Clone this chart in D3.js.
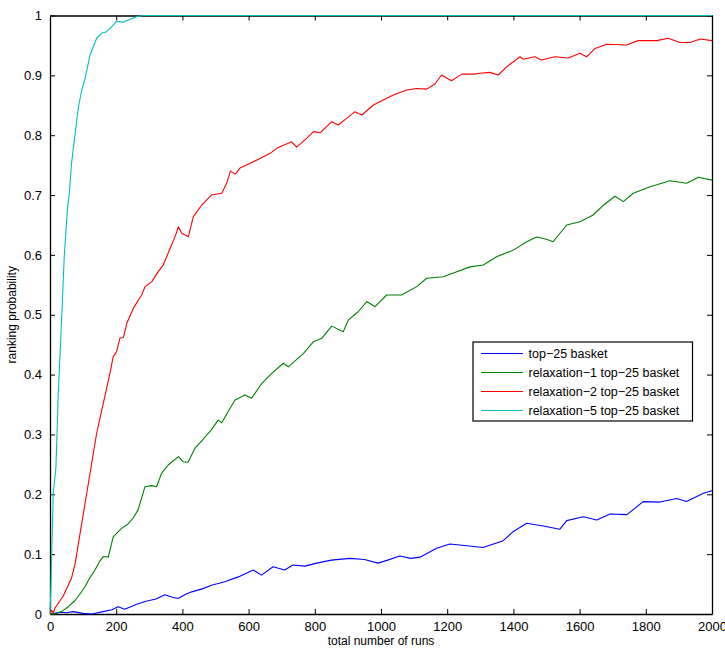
<!DOCTYPE html>
<html>
<head>
<meta charset="utf-8">
<script src="https://cdn.jsdelivr.net/npm/d3@7"></script>
<style>
  html, body { margin: 0; padding: 0; background: #fff; }
  svg { display: block; font-family: "Liberation Sans", Arial, Helvetica, sans-serif; }
</style>
</head>
<body>
<svg id="chart" width="725" height="648"></svg>
<script>
// Ranking probability versus total number of runs, one curve per basket type.
const seriesNames = [
  "top\u221225 basket",
  "relaxation\u22121 top\u221225 basket",
  "relaxation\u22122 top\u221225 basket",
  "relaxation\u22125 top\u221225 basket"
];
const seriesColors = ["#0000ff", "#008000", "#ff0000", "#00bfbf"];

const xTicks = [0, 200, 400, 600, 800, 1000, 1200, 1400, 1600, 1800, 2000];
const yTicks = [0, 0.1, 0.2, 0.3, 0.4, 0.5, 0.6, 0.7, 0.8, 0.9, 1];

const top25Runs = [0, 30, 50, 70, 100, 127, 160, 187, 206, 226, 260, 287, 320, 347, 370, 387, 410, 428, 460, 488, 528, 569, 614, 639, 674, 709, 734, 770, 806, 850, 906, 950, 991, 1020, 1057, 1090, 1118, 1168, 1208, 1260, 1308, 1340, 1369, 1399, 1440, 1490, 1540, 1561, 1611, 1652, 1692, 1743, 1792, 1843, 1893, 1923, 1974, 2000];
const top25Prob = [0, 0.003, 0.002, 0.004, 0.001, 0, 0.004, 0.007, 0.012, 0.008, 0.016, 0.021, 0.025, 0.032, 0.028, 0.026, 0.033, 0.037, 0.042, 0.048, 0.054, 0.062, 0.0735, 0.065, 0.079, 0.0735, 0.082, 0.08, 0.085, 0.09, 0.093, 0.091, 0.085, 0.09, 0.097, 0.093, 0.095, 0.11, 0.117, 0.114, 0.111, 0.117, 0.1225, 0.1375, 0.1515, 0.147, 0.1415, 0.156, 0.1626, 0.157, 0.167, 0.166, 0.1877, 0.187, 0.193, 0.188, 0.2016, 0.206];

const relax1Runs = [0, 20, 35, 55, 76, 90, 106, 120, 136, 150, 161, 176, 191, 216, 235, 251, 266, 287, 307, 322, 337, 357, 388, 402, 417, 438, 460, 478, 488, 508, 519, 540, 559, 589, 609, 640, 670, 705, 720, 766, 796, 821, 851, 886, 901, 931, 957, 982, 1017, 1062, 1108, 1138, 1188, 1229, 1269, 1309, 1349, 1400, 1440, 1470, 1500, 1520, 1561, 1601, 1641, 1672, 1707, 1732, 1762, 1813, 1873, 1923, 1959, 2000];
const relax1Prob = [0, 0.001, 0.004, 0.012, 0.023, 0.033, 0.046, 0.06, 0.0735, 0.088, 0.096, 0.095, 0.129, 0.143, 0.15, 0.16, 0.174, 0.2127, 0.2145, 0.2127, 0.235, 0.249, 0.263, 0.2545, 0.2535, 0.277, 0.29, 0.302, 0.308, 0.324, 0.3195, 0.34, 0.3576, 0.366, 0.3604, 0.3855, 0.402, 0.419, 0.413, 0.4356, 0.455, 0.4606, 0.481, 0.4717, 0.491, 0.505, 0.522, 0.5135, 0.533, 0.533, 0.547, 0.561, 0.5636, 0.572, 0.58, 0.583, 0.597, 0.608, 0.622, 0.63, 0.626, 0.622, 0.65, 0.6555, 0.6667, 0.683, 0.698, 0.689, 0.703, 0.714, 0.724, 0.7196, 0.7296, 0.725];

const relax2Runs = [0, 5, 10, 15, 25, 40, 55, 65, 76, 91, 111, 126, 141, 161, 181, 191, 201, 211, 222, 232, 252, 267, 277, 287, 307, 327, 342, 363, 378, 388, 398, 418, 433, 458, 488, 519, 534, 545, 560, 574, 600, 630, 665, 685, 730, 745, 776, 796, 816, 851, 871, 896, 921, 942, 977, 1007, 1037, 1078, 1108, 1138, 1163, 1183, 1213, 1244, 1279, 1299, 1329, 1354, 1380, 1420, 1430, 1465, 1485, 1526, 1566, 1601, 1621, 1647, 1682, 1742, 1777, 1833, 1868, 1903, 1934, 1964, 2000];
const relax2Prob = [0, 0.006, 0.002, 0.01, 0.018, 0.03, 0.048, 0.06, 0.0847, 0.135, 0.2017, 0.252, 0.302, 0.352, 0.402, 0.43, 0.438, 0.4607, 0.462, 0.4857, 0.5107, 0.5246, 0.533, 0.547, 0.555, 0.572, 0.583, 0.611, 0.6305, 0.647, 0.636, 0.6305, 0.664, 0.683, 0.7, 0.703, 0.72, 0.74, 0.735, 0.745, 0.752, 0.76, 0.7697, 0.778, 0.789, 0.78, 0.795, 0.806, 0.804, 0.8226, 0.817, 0.828, 0.839, 0.8337, 0.8505, 0.8588, 0.867, 0.8755, 0.878, 0.877, 0.8856, 0.9006, 0.891, 0.902, 0.902, 0.9034, 0.905, 0.9006, 0.9145, 0.931, 0.927, 0.931, 0.9256, 0.931, 0.929, 0.9368, 0.931, 0.945, 0.952, 0.9507, 0.958, 0.958, 0.962, 0.955, 0.955, 0.9607, 0.958];

const relax5Runs = [0, 3, 5, 10, 18, 25, 35, 43, 53, 58, 65, 76, 86, 96, 106, 121, 141, 156, 171, 186, 201, 222, 242, 262, 282, 2000];
const relax5Prob = [0, 0.05, 0.1014, 0.2017, 0.246, 0.3687, 0.491, 0.597, 0.68, 0.70, 0.753, 0.803, 0.8476, 0.8755, 0.895, 0.934, 0.962, 0.9703, 0.973, 0.981, 0.99, 0.989, 0.9936, 0.998, 1, 1];

const seriesRuns = [top25Runs, relax1Runs, relax2Runs, relax5Runs];
const seriesProb = [top25Prob, relax1Prob, relax2Prob, relax5Prob];

const margin = { left: 50, top: 15.5, right: 13, bottom: 34 };
const W = 725, H = 648;
const plotW = W - margin.left - margin.right;
const plotH = H - margin.top - margin.bottom;

const svg = d3.select("#chart");
const g = svg.append("g").attr("transform", `translate(${margin.left},${margin.top})`);

const x = d3.scaleLinear().domain([0, 2000]).range([0, plotW]);
const y = d3.scaleLinear().domain([0, 1]).range([plotH, 0]);

const fmtY = d => d3.format("~g")(d);
const tickLen = 5;

// Axes on all four sides with inward ticks; labels only on bottom and left.
g.append("g").attr("transform", `translate(0,${plotH})`)
  .call(d3.axisBottom(x).tickValues(xTicks).tickSizeInner(-tickLen).tickSizeOuter(0).tickPadding(8).tickFormat(d3.format("d")))
  .call(s => s.selectAll("text").attr("font-size", 13).attr("fill", "#000"));
g.append("g")
  .call(d3.axisTop(x).tickValues(xTicks).tickSizeInner(-tickLen).tickSizeOuter(0).tickFormat(""));
g.append("g")
  .call(d3.axisLeft(y).tickValues(yTicks).tickSizeInner(-tickLen).tickSizeOuter(0).tickPadding(8).tickFormat(fmtY))
  .call(s => s.selectAll("text").attr("font-size", 13).attr("fill", "#000"));
g.append("g").attr("transform", `translate(${plotW},0)`)
  .call(d3.axisRight(y).tickValues(yTicks).tickSizeInner(-tickLen).tickSizeOuter(0).tickFormat(""));

g.selectAll(".domain").attr("stroke", "#000").attr("stroke-width", 1.3);
g.selectAll(".tick line").attr("stroke", "#000");

// Curves
const line = d3.line().x(d => x(d[0])).y(d => y(d[1]));
seriesNames.forEach((name, i) => {
  const pts = seriesRuns[i].map((r, j) => [r, seriesProb[i][j]]);
  g.append("path")
    .datum(pts)
    .attr("fill", "none")
    .attr("stroke", seriesColors[i])
    .attr("stroke-width", 1.1)
    .attr("stroke-linejoin", "round")
    .attr("d", line);
});

// Axis titles
svg.append("text")
  .attr("x", margin.left + plotW / 2).attr("y", 645)
  .attr("text-anchor", "middle").attr("font-size", 12).attr("fill", "#000")
  .text("total number of runs");
svg.append("text")
  .attr("transform", `translate(16,${margin.top + plotH / 2}) rotate(-90)`)
  .attr("text-anchor", "middle").attr("font-size", 12).attr("fill", "#000")
  .text("ranking probability");

// Legend
const legend = svg.append("g").attr("transform", "translate(473,342)");
legend.append("rect")
  .attr("width", 219.5).attr("height", 79)
  .attr("fill", "#fff").attr("stroke", "#000").attr("stroke-width", 1.2);
seriesNames.forEach((name, i) => {
  const yy = 11.5 + i * 19;
  legend.append("line")
    .attr("x1", 8).attr("x2", 50).attr("y1", yy).attr("y2", yy)
    .attr("stroke", seriesColors[i]).attr("stroke-width", 1.1);
  legend.append("text")
    .attr("x", 55.5).attr("y", yy + 4.5)
    .attr("font-size", 12.5).attr("fill", "#000")
    .text(name);
});
</script>
</body>
</html>
